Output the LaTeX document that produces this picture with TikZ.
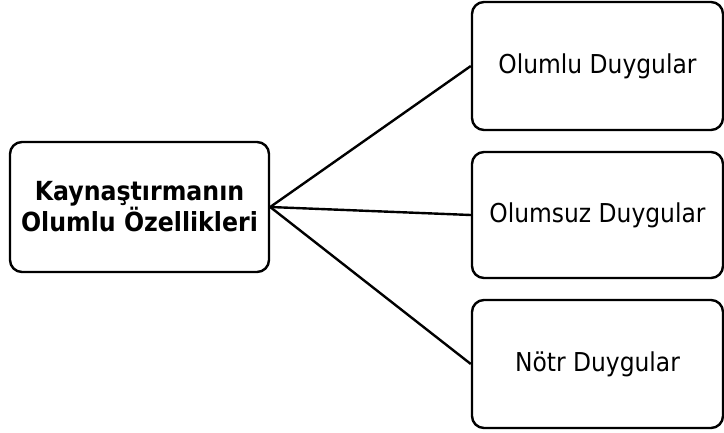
\documentclass[tikz,border=0pt]{standalone}
\usepackage{fontspec}
\newfontfamily\boxfont{DejaVu Sans Condensed}
\tikzset{
  box/.style={draw=black, line width=2.4pt, rounded corners=12pt, align=center, inner sep=0pt, font=\boxfont\fontsize{26}{30}\selectfont},
  mainbox/.style={box, font=\boxfont\bfseries\fontsize{26.3}{27}\selectfont},
  link/.style={draw=black, line width=2.4pt}
}
\begin{document}
\begin{tikzpicture}[x=1pt, y=-1pt]
\useasboundingbox (0,0) rectangle (724,432);
\node[mainbox, minimum width=259pt, minimum height=130pt] (main) at (139.5,207) {Kaynaştırmanın\\Olumlu Özellikleri};
\node[box, minimum width=251pt, minimum height=128pt] (pos) at (597.5,66) {Olumlu Duygular};
\node[box, minimum width=251pt, minimum height=126pt] (neg) at (597.5,215) {Olumsuz Duygular};
\node[box, minimum width=251pt, minimum height=128pt] (neu) at (597.5,364) {Nötr Duygular};
\draw[link] (main.east) -- (pos.west);
\draw[link] (main.east) -- (neg.west);
\draw[link] (main.east) -- (neu.west);
\end{tikzpicture}
\end{document}
